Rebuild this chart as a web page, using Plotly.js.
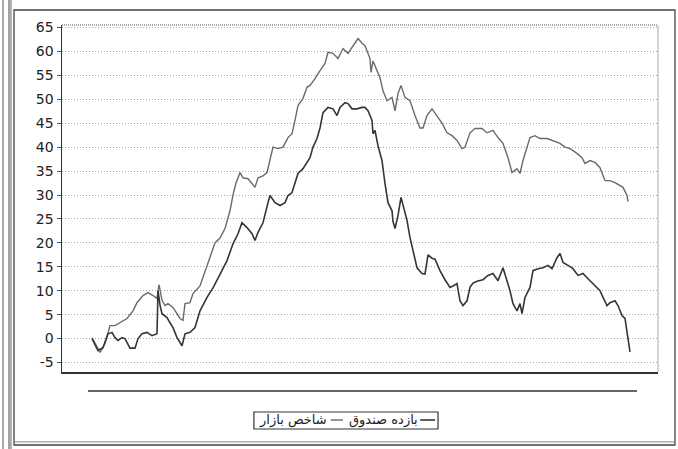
<!DOCTYPE html>
<html>
<head>
<meta charset="utf-8">
<script src="https://cdn.plot.ly/plotly-3.0.1.min.js"></script>
<style>html,body{margin:0;padding:0;background:#fff;}#chart{width:678px;height:449px;}</style>
</head>
<body>
<div id="chart"></div>
<script>
// Series names (legend)
const seriesMarketName = "شاخص بازار";
const seriesFundName = "بازده صندوق";

// Market index (upper line at the peak): day index and value (%)
const marketDay = [0,5,8,13,18,23,28,35,41,45,51,56,61,65,67,70,73,76,81,85,88,91,93,98,101,108,113,118,123,128,133,138,141,144,148,151,156,160,163,166,171,175,178,181,186,191,196,200,203,206,211,215,218,223,228,233,236,241,246,251,256,260,263,266,270,273,278,279,281,285,288,291,295,300,303,306,309,313,318,323,328,331,335,340,345,350,355,360,365,370,373,378,383,390,395,401,406,411,416,420,425,428,431,435,438,443,448,455,461,468,473,478,485,490,493,498,503,508,513,518,523,528,531,535,536];
const marketVal = [0.2,-1.9,-2.9,-1.0,2.7,2.7,3.3,4.2,5.8,7.5,9.0,9.6,9.0,8.4,11.3,8.0,6.9,7.3,6.5,5.2,4.2,3.8,7.3,7.5,9.4,11.0,13.8,17.0,20.0,21.0,23.0,26.7,30.0,32.5,34.7,33.6,33.4,32.4,31.6,33.6,34.0,34.7,37.2,40.0,39.7,40.0,42.0,42.8,45.6,48.7,50.2,52.5,52.9,54.3,56.0,57.5,59.8,59.6,58.5,60.6,59.6,60.8,61.7,62.7,61.7,61.2,58.5,55.6,58.0,56.0,54.5,51.8,49.7,50.4,47.6,51.2,52.9,50.4,49.7,46.6,44.0,44.0,46.6,48.0,46.6,45.0,43.0,42.4,41.4,39.7,40.0,43.0,43.9,43.9,43.0,43.5,42.0,40.8,37.8,34.7,35.5,34.5,37.2,40.0,42.0,42.4,41.8,41.8,41.4,40.8,40.0,39.7,38.7,37.8,36.6,37.2,36.8,35.7,33.0,33.0,32.6,32.0,31.6,29.9,28.6];

// Fund return (lower line at the peak): day index and value (%)
const fundDay = [0,1,6,11,16,20,23,26,30,33,38,43,46,50,55,60,65,66,68,70,75,78,81,85,88,90,93,98,103,108,115,121,128,135,141,146,150,155,160,163,166,171,176,178,183,188,193,196,200,203,206,211,215,218,221,225,228,231,236,241,245,248,253,256,260,265,270,273,276,280,281,283,286,290,293,295,296,300,301,303,306,309,311,313,315,318,321,325,330,333,336,340,343,348,353,358,361,365,368,371,375,378,381,385,391,396,401,406,411,415,418,421,425,428,430,433,438,441,446,451,456,460,465,468,471,476,481,486,491,496,501,508,511,515,518,523,526,530,533,535,536,538];
const fundVal = [0.0,-0.4,-2.5,-1.9,1.0,1.3,0.2,-0.4,0.2,0.0,-2.0,-2.0,0.0,1.0,1.3,0.6,1.0,10.0,7.0,5.2,4.4,3.3,2.3,0.2,-1.0,-1.5,1.0,1.3,2.3,5.8,8.6,10.6,13.4,16.3,19.8,21.9,24.2,23.2,21.9,20.5,22.2,24.2,28.4,29.9,28.4,27.8,28.4,29.9,30.5,32.4,34.5,35.5,36.8,37.8,40.0,41.8,44.0,47.2,48.3,48.0,46.6,48.3,49.3,49.1,48.0,48.0,48.3,48.3,47.6,45.6,42.8,43.5,40.3,37.2,32.4,30.0,28.4,26.7,24.5,23.0,25.7,29.5,28.0,26.7,24.7,21.1,18.4,14.8,13.6,13.5,17.5,16.8,16.6,14.2,12.3,10.7,11.0,11.5,7.9,6.9,7.9,10.7,11.6,12.0,12.3,13.2,13.6,12.1,14.8,12.1,10.0,7.3,5.8,7.3,5.2,8.6,10.7,14.2,14.6,14.8,15.3,14.6,16.9,17.8,15.9,15.3,14.6,13.2,13.6,12.5,11.5,10.0,8.6,6.9,7.5,7.9,6.9,4.8,4.2,1.7,-0.4,-2.8];

// Y axis ticks
const yTicks = [-5,0,5,10,15,20,25,30,35,40,45,50,55,60,65];
const yTickText = ["-5","0","5","10","15","20","25","30","35","40","45","50","55","60","65"];

const marketColor = "#6a6a6a";
const fundColor = "#353535";

const traces = [
  {x: marketDay, y: marketVal, type: "scatter", mode: "lines", name: seriesMarketName,
   line: {color: marketColor, width: 1.4}, showlegend: false},
  {x: fundDay, y: fundVal, type: "scatter", mode: "lines", name: seriesFundName,
   line: {color: fundColor, width: 1.6}, showlegend: false}
];

const shapes = [
  // plot border top (dotted) and right (light)
  {type:"line", xref:"paper", yref:"paper", x0:0, x1:1, y0:1, y1:1, line:{color:"#555", width:1.2, dash:"1px,1px"}},
  {type:"line", xref:"paper", yref:"paper", x0:1, x1:1, y0:0, y1:1, line:{color:"#aaa", width:1}},
  // separator line below the plot
  {type:"line", xref:"paper", yref:"paper", x0:0.0436, x1:0.9648, y0:-0.0548, y1:-0.0548, line:{color:"#333", width:1.6}},
  // outer chart frame
  {type:"rect", xref:"paper", yref:"paper", x0:-0.0805, x1:1.0285, y0:-0.2104, y1:1.0432, line:{color:"#444", width:1.3}},
  {type:"line", xref:"paper", yref:"paper", x0:-0.0805, x1:1.0285, y0:-0.2014, y1:-0.2014, line:{color:"#888", width:1}},
  // page double lines at the left
  {type:"line", xref:"paper", yref:"paper", x0:-0.0990, x1:-0.0990, y0:-0.23, y1:1.08, line:{color:"#555", width:1}},
  {type:"line", xref:"paper", yref:"paper", x0:-0.0889, x1:-0.0889, y0:-0.23, y1:1.08, line:{color:"#444", width:1}},
  {type:"line", xref:"paper", yref:"paper", x0:-0.0856, x1:-0.0856, y0:-0.23, y1:1.08, line:{color:"#666", width:1}},
  // legend box
  {type:"rect", xref:"paper", yref:"paper", x0:0.322, x1:0.6309, y0:-0.1643, y1:-0.1153, line:{color:"#333", width:1.2}, fillcolor:"#fff"},
  // legend line samples
  {type:"line", xref:"paper", yref:"paper", x0:0.451, x1:0.4715, y0:-0.1383, y1:-0.1383, line:{color:marketColor, width:1.4}},
  {type:"line", xref:"paper", yref:"paper", x0:0.601, x1:0.626, y0:-0.1383, y1:-0.1383, line:{color:fundColor, width:1.6}}
];

const annotations = [
  {xref:"paper", yref:"paper", x:0.3880, y:-0.1383, text:seriesMarketName, showarrow:false,
   xanchor:"center", yanchor:"middle", font:{family:"DejaVu Sans", size:13, color:"#222"}},
  {xref:"paper", yref:"paper", x:0.5400, y:-0.1383, text:seriesFundName, showarrow:false,
   xanchor:"center", yanchor:"middle", font:{family:"DejaVu Sans", size:13, color:"#222"}}
];

const layout = {
  width: 678, height: 449,
  margin: {l: 62, r: 20, t: 25, b: 77, pad: 0},
  paper_bgcolor: "#ffffff",
  plot_bgcolor: "#ffffff",
  showlegend: false,
  xaxis: {
    range: [-30, 566], showticklabels: false, ticks: "", showgrid: false, zeroline: false,
    showline: true, linecolor: "#333", linewidth: 2.2, fixedrange: true
  },
  yaxis: {
    range: [-6.98, 65.52], tickvals: yTicks, ticktext: yTickText,
    ticks: "outside", ticklen: 4, tickcolor: "#555", tickwidth: 1,
    showgrid: true, gridcolor: "#a8a8a8", griddash: "1px,2px", gridwidth: 1,
    zeroline: false, showline: true, linecolor: "#333", linewidth: 1.5,
    tickfont: {family: "DejaVu Sans", size: 14, color: "#222"}, fixedrange: true
  },
  shapes: shapes,
  annotations: annotations
};

Plotly.newPlot("chart", traces, layout, {staticPlot: true, displayModeBar: false});
</script>
</body>
</html>
